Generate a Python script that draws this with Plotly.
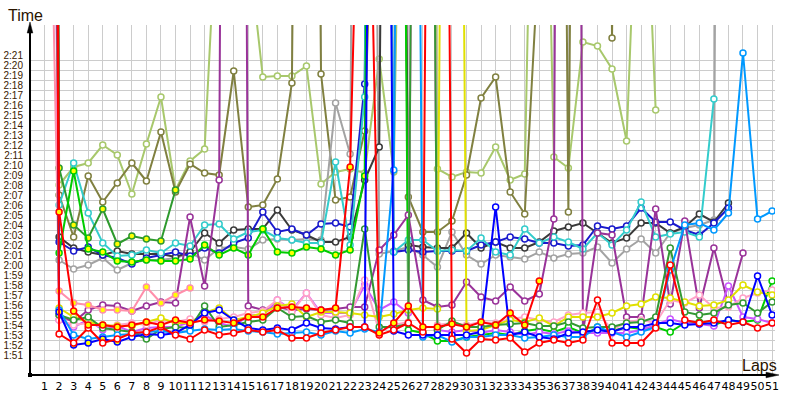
import plotly.graph_objects as go

N = None
laps = list(range(1, 52))
lap_labels = [str(l) for l in laps]
time_ticks = list(range(111, 142))
time_labels = [f"{t // 60}:{t % 60:02d}" for t in time_ticks]

# lap times in seconds, laps 1..51 (None = not driven)
light_olive = [400, 128.0, 129.8, 130.2, 132.0, 131.0, 127.1, 132.1, 136.8, 127.5,
               130.4, 131.6, 160, 170, 152, 138.8, 138.9, 138.9, 139.9, 128.1,
               129.3, 129.6, 129.2, 140.6, 129.3, 300, 300, 129.6, 128.8, 129.3,
               129.2, 131.8, 128.5, 129.1, 200, 130.8, 129.7, 142.3, 141.9, 139.6,
               132.4, 170, 135.5]
olive = [400, 127.0, 122.8, 128.9, 126.3, 128.2, 130.2, 128.4, 133.3, 127.3,
         130.1, 129.2, 129.0, 139.4, 125.8, 126.0, 128.6, 138.2, 300, 139.1,
         126.5, 126.8, 133.4, 180, 250, 126.8, 123.3, 123.3, 124.4, 129.0,
         136.7, 138.8, 127.3, 125.1, 152, 300, 125.3, 300, 300, 142.7, 300]
dark_gray = [400, 122.8, 121.7, 121.3, 121.0, 121.4, 121.1, 121.1, 121.1, 120.8,
             121.3, 123.2, 122.2, 123.5, 123.6, 123.6, 125.5, 123.5, 123.0, 122.3,
             122.3, 122.8, 128.5, 131.8, 300, 122.0, 121.8, 121.7, 121.7, 123.2,
             121.7, 122.3, 121.7, 121.7, 122.3, 123.4, 123.8, 124.2, 123.2, 122.2,
             122.7, 124.2, 124.2, 123.2, 123.8, 125.1, 124.3, 126.2]
gray = [400, 120.5, 119.6, 120.0, 120.7, 119.5, 120.2, 120.5, 120.5, 120.7,
        121.2, 120.5, 121.7, 121.8, 121.6, 122.5, 122.6, 122.5, 122.6, 122.5,
        136.2, 131.1, 300, 121.1, 121.4, 121.8, 121.0, 119.8, 123.3, 121.0,
        120.1, 121.0, 120.8, 120.6, 121.3, 120.7, 121.1, 121.2, 121.8, 120.2,
        121.6, 122.6, 121.2, 123.2, 123.7, 124.0, 124.5, 400]
navy = [400, 122.3, 121.4, 121.8, 121.0, 120.7, 120.1, 120.7, 121.0, 121.3,
        120.9, 121.7, 121.2, 122.2, 122.7, 125.3, 123.3, 123.6, 123.0, 124.1,
        124.2, 123.8, 138.1, 300, 121.3, 121.5, 121.3, 121.4, 121.4, 121.4,
        122.0, 122.3, 122.8, 122.6, 122.2, 122.2, 121.9, 122.0, 123.9, 123.6,
        123.9, 125.7, 124.3, 124.3, 123.5, 123.0, 124.2, 125.7]
cyan = [400, 126.0, 130.2, 125.2, 122.2, 120.9, 121.0, 121.5, 121.2, 122.2,
        121.9, 124.0, 124.1, 122.6, 123.3, 123.5, 122.7, 122.5, 122.2, 122.2,
        130.3, 122.0, 136.8, 300, 121.3, 122.5, 122.5, 121.4, 121.5, 121.4,
        122.7, 121.3, 121.0, 123.6, 122.2, 122.8, 122.3, 121.6, 123.2, 122.0,
        123.5, 126.3, 122.8, 123.1, 123.3, 122.8, 136.6]
green = [400, 121.2, 129.4, 121.6, 121.3, 120.4, 120.3, 120.5, 120.4, 120.4,
         120.6, 122.0, 121.0, 121.7, 121.0, 123.6, 121.3, 121.2, 121.8, 121.6,
         121.0, 121.5, 128.9, 300, 300, 113.5, 113.2, 112.4, 112.4, 112.8,
         113.0, 113.2, 113.0, 113.4, 113.6, 113.3, 113.8, 113.2, 113.6, 113.4,
         113.8, 113.6, 113.8, 113.3, 114.2, 114.3, 114.0, 114.5, 114.3, 114.5,
         118.4]
forest = [400, 129.7, 124.0, 122.7, 125.6, 122.1, 122.9, 122.6, 122.4, 127.5]
dark_green = [400, 115.0, 114.5, 114.8, 113.7, 113.5, 113.3, 112.6, 113.6, 113.8,
              113.7, 115.9, 113.8, 114.0, 114.3, 114.5, 115.7, 114.8, 114.9, 114.3,
              114.5, 114.2, 123.6, 113.8, 113.8, 114.1, 300, 113.5, 114.4, 113.8,
              113.8, 114.0, 114.1, 114.2, 113.9, 113.9, 114.3, 113.7, 113.8, 113.8,
              114.2, 114.3, 114.8, 121.7, 115.3, 115.0, 115.2, 116.0, 116.2, 115.2,
              116.3]
red_a = [400, 125.3, 115.4, 114.0, 114.0, 113.8, 114.0, 114.3, 114.0, 114.5,
         114.2, 114.5, 114.4, 114.2, 114.8, 114.8, 115.7, 115.8, 115.7, 115.5,
         115.7, 129.8, 187, 113.2, 114.2, 115.9, 113.8, 113.8, 114.1, 113.8,
         114.3, 114.0, 115.2, 114.0, 118.4]
red_b = [400, 113.1, 112.2, 113.7, 112.2, 112.6, 113.2, 113.3, 113.8, 113.0,
         112.6, 113.5, 113.0, 113.2, 113.5, 113.3, 113.5, 112.7, 112.7, 113.2,
         113.5, 113.8, 113.8, 113.0, 113.5, 114.2, 113.3, 300, 112.6, 111.2,
         112.6, 112.5, 112.7, 111.3, 112.2, 112.5, 112.2, 112.5, 116.5, 112.2,
         112.2, 112.2, 113.7, 120.0, 114.5, 114.2, 114.5, 114.0, 114.3, 113.7,
         114.2]
blue = [400, 115.3, 112.0, 112.2, 112.6, 112.3, 112.8, 113.1, 113.0, 113.2,
        114.0, 115.2, 115.5, 114.5, 113.7, 113.5, 113.7, 113.5, 114.2, 113.7,
        113.6, 113.8, 113.8, 300, 113.4, 113.0, 113.0, 113.0, 113.0, 113.0,
        113.3, 125.8, 113.0, 113.3, 112.8, 112.6, 113.2, 113.3, 113.5, 113.3,
        113.8, 113.8, 114.2, 114.2, 114.0, 114.1, 114.2, 114.5, 114.3, 118.9,
        115.0]
dodger = [400, 115.5, 113.0, 112.6, 112.8, 113.0, 113.1, 113.3, 113.4, 113.2,
          113.4, 113.6, 113.5, 113.6, 113.4, 113.3, 113.1, 113.2, 113.3, 113.0,
          113.4, 113.2, 113.6, 113.3, 129.5, 300, 112.8, 113.0, 112.3, 112.8,
          112.8, 113.0, 113.0, 112.7, 112.8, 113.0, 112.8, 112.8, 113.8, 113.3,
          112.8, 113.3, 113.8, 119.5, 124.0, 124.2, 123.5, 125.2, 141.2, 124.6,
          125.4]
yellow = [400, 115.7, 114.8, 114.3, 114.0, 113.9, 113.9, 114.3, 114.7, 114.2,
          114.2, 115.2, 115.7, 114.5, 114.8, 115.2, 115.9, 116.1, 114.8, 115.3,
          115.3, 115.2, 115.0, 114.8, 115.1, 115.5, 115.7, 115.6, 300, 113.4,
          113.5, 114.0, 114.5, 114.3, 114.7, 113.9, 114.8, 114.8, 114.8, 115.2,
          115.9, 116.1, 116.8, 116.7, 116.3, 115.9, 116.0, 116.5, 118.0, 117.3,
          117.0]
pink = [190, 117.4, 116.2, 116.0, 115.5, 115.5, 115.4, 117.8, 116.2, 117.0, 117.7]
light_pink = [300, 114.5, 114.0, 114.2, 113.8, 114.0, 114.2, 114.0, 114.5, 114.3,
              114.6, 114.3, 114.6, 114.8, 115.2, 115.4, 116.5, 115.3, 117.2, 115.0,
              114.7, 115.0, 118.5, 113.3, 114.0, 114.3, 300, 114.0, 114.2, 114.0,
              114.3, 114.2, 114.6, 114.8, 114.5, 114.3, 115.0, 115.2, 115.3, 113.5,
              114.3, 114.5, 114.2, 116.5, 116.2, 117.0, 115.7, 115.8, 116.7, 117.2,
              117.5]
violet = [300, 114.5, 113.8, 114.5, 113.5, 113.9, 113.3, 113.7, 113.8, 113.8,
          114.3, 115.0, 114.2, 113.8, 115.0, 114.9, 116.5, 115.5, 117.2, 115.2,
          115.2, 115.2, 118.0, 115.5, 116.3, 115.2, 300, 113.5, 113.3, 113.5,
          113.2, 113.5, 113.3, 113.0, 113.3, 113.1, 113.4, 113.2, 113.2, 113.2,
          113.2, 113.5, 114.0, 114.6, 114.2, 114.1, 113.9, 117.9, 114.8, 114.6,
          114.2]
purple = [300, 115.0, 114.3, 115.5, 116.0, 115.9, 115.4, 115.9, 116.3, 116.2,
          124.8, 117.9, 128.5, 400, 115.9, 115.5, 115.8, 115.5, 115.6, 115.5,
          115.6, 115.8, 115.8, 121.5, 123.0, 125.0, 116.5, 115.8, 116.0, 118.3,
          116.8, 116.4, 117.8, 116.4, 117.1, 124.6, 400, 113.2, 123.2, 123.0,
          114.8, 114.8, 125.6, 116.1, 124.4, 115.7, 121.7, 116.0, 121.2]

# (values, line colour, laps drawn with a yellow-filled marker)
series = [
    (light_olive, "#a8c86c", []),
    (olive, "#808040", []),
    (gray, "#a3a3a3", []),
    (dark_gray, "#3a3a3a", []),
    (navy, "#1a1acc", []),
    (cyan, "#33cccc", []),
    (forest, "#2e9a2e", list(range(2, 11))),
    (green, "#00cc00", list(range(2, 24))),
    (purple, "#993399", []),
    (violet, "#cc55ff", []),
    (light_pink, "#ffa3c8", []),
    (pink, "#ff8fab", list(range(2, 12))),
    (yellow, "#e0e000", []),
    (dark_green, "#339933", []),
    (dodger, "#0099ff", []),
    (blue, "#0000ff", list(range(2, 7))),
    (red_b, "#ff0000", []),
    (red_a, "#ff0000", list(range(2, 36))),
]

fig = go.Figure()
for vals, col, ylaps in series:
    xs = laps[:len(vals)]
    fills = ["#ffff00" if l in ylaps else "#ffffff" for l in xs]
    fig.add_trace(go.Scatter(
        x=xs, y=vals, mode="lines+markers",
        line=dict(color=col, width=2),
        marker=dict(symbol="circle", size=6, color=fills,
                    line=dict(color=col, width=1.5)),
        cliponaxis=True, hoverinfo="skip"))

L, R, T, B = 30, 775, 25, 375
def fx(px):
    return (px - L) / (R - L)
def fy(py):
    return (B - py) / (B - T)

shapes = [
    dict(type="line", xref="paper", yref="paper", x0=fx(30), y0=fy(375), x1=fx(30), y1=fy(30),
         line=dict(color="black", width=2)),
    dict(type="line", xref="paper", yref="paper", x0=fx(30), y0=fy(375), x1=fx(770), y1=fy(375),
         line=dict(color="black", width=2)),
    dict(type="path", xref="paper", yref="paper",
         path=f"M {fx(30)},{fy(22)} L {fx(27.2)},{fy(33)} L {fx(32.8)},{fy(33)} Z",
         fillcolor="black", line=dict(color="black", width=0.5)),
    dict(type="path", xref="paper", yref="paper",
         path=f"M {fx(779)},{fy(375)} L {fx(766)},{fy(372.2)} L {fx(766)},{fy(377.8)} Z",
         fillcolor="black", line=dict(color="black", width=0.5)),
    dict(type="rect", xref="paper", yref="paper", x0=fx(28), y0=fy(377), x1=fx(32), y1=fy(373),
         fillcolor="black", line=dict(color="black", width=0)),
]

annotations = [
    dict(text="Time", xref="paper", yref="paper", x=fx(25), y=fy(16), showarrow=False,
         xanchor="center", yanchor="middle",
         font=dict(family="Liberation Sans", size=16, color="#2a1400")),
    dict(text="Laps", xref="paper", yref="paper", x=fx(759), y=fy(365), showarrow=False,
         xanchor="center", yanchor="middle",
         font=dict(family="Liberation Sans", size=16, color="#2a1400")),
]

fig.update_layout(
    width=800, height=400,
    margin=dict(l=L, r=800 - R, t=T, b=400 - B, autoexpand=False),
    paper_bgcolor="white", plot_bgcolor="white",
    showlegend=False,
    shapes=shapes, annotations=annotations,
    xaxis=dict(range=[0, 51.2], tickmode="array", tickvals=laps, ticktext=lap_labels,
               tickangle=0, automargin=False,
               showgrid=True, gridcolor="#cccccc", gridwidth=1, zeroline=False,
               showline=False, ticks="", fixedrange=True, ticklabelstandoff=3,
               tickfont=dict(family="DejaVu Sans", size=11, color="black")),
    yaxis=dict(range=[109, 144], tickmode="array", tickvals=time_ticks, ticktext=time_labels,
               showgrid=False, zeroline=False, showline=False, ticks="", fixedrange=True,
               ticklabelstandoff=6, automargin=False,
               minor=dict(tickmode="array", tickvals=[t - 0.5 for t in time_ticks],
                          showgrid=True, gridcolor="#cccccc", gridwidth=1, ticks=""),
               tickfont=dict(family="Liberation Sans", size=10, color="#3a2000")),
)

fig.write_html("out.html")
